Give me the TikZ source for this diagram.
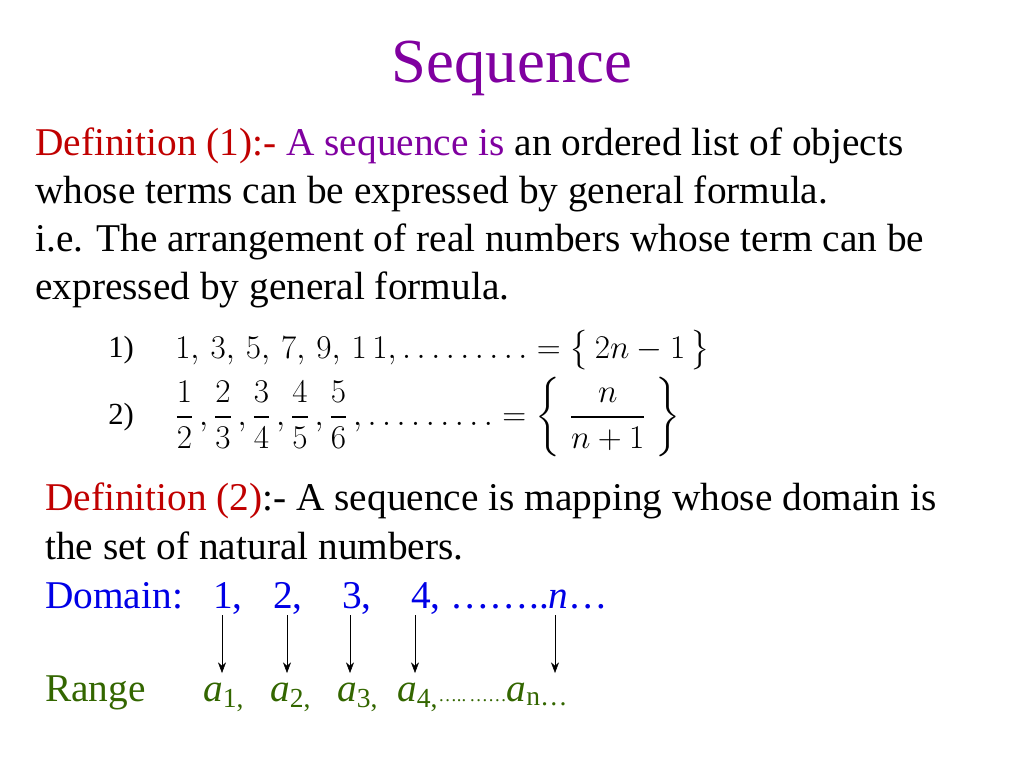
\documentclass[tikz,border=0pt]{standalone}
\usetikzlibrary{arrows.meta}
\usepackage{amsmath}
\usepackage{fontspec}
\setmainfont{Liberation Serif}
\definecolor{dred}{RGB}{192,0,0}
\definecolor{purp}{RGB}{128,0,160}
\definecolor{dblue}{RGB}{0,0,230}
\definecolor{dgreen}{RGB}{51,102,0}
\begin{document}
\begin{tikzpicture}[x=0.75pt,y=-0.75pt,
  txt/.style={anchor=base west,inner sep=0,font=\fontsize{29.5}{34}\selectfont},
  mth/.style={anchor=west,inner sep=0,font=\fontsize{23}{26}\selectfont},
  arr/.style={-{Stealth[length=8pt,width=6pt]},thin}]
\useasboundingbox (0,0) rectangle (1024,768);
\node[anchor=base,inner sep=0,text=purp,font=\fontsize{47}{54}\selectfont] (title) at (512,82) {Sequence};
\node[txt] (l1) at (35,155) {\textcolor{dred}{Definition (1):-} \textcolor{purp}{A sequence is} an ordered list of objects};
\node[txt] (l2) at (35,203) {whose terms can be expressed by general formula.};
\node[txt] (l3) at (35,251) {i.e. The arrangement of real numbers whose term can be};
\node[txt] (l4) at (35,299) {expressed by general formula.};
\node[mth] (f1l) at (108,350) {1)};
\node[mth] (f1) at (175,350) {$1,\,3,\,5,\,7,\,9,\,1\,1,\ldots\ldots\ldots=\bigl\{\,2n-1\,\bigr\}$};
\node[mth] (f2l) at (108,417) {2)};
\node[mth] (f2) at (175,417) {$\dfrac12\,,\dfrac23\,,\dfrac34\,,\dfrac45\,,\dfrac56\,,\ldots\ldots\ldots=\left\{\;\dfrac{\;\;n\;\;}{n+1}\;\right\}$};
\node[txt] (d1) at (45,510) {\textcolor{dred}{Definition (2)}:- A sequence is mapping whose domain is};
\node[txt] (d2) at (45,559) {the set of natural numbers.};
\node[txt,text=dblue] (dom) at (45,608) {Domain:};
\node[txt,text=dblue] (n1) at (213,608) {1,};
\node[txt,text=dblue] (n2) at (273,608) {2,};
\node[txt,text=dblue] (n3) at (342,608) {3,};
\node[txt,text=dblue] (n4) at (411,608) {4, \ldots\ldots..\textit{n}\ldots};
\node[txt,text=dgreen] (rng) at (45,701) {Range};
\node[txt,text=dgreen] (a1) at (203,701) {\textit{a}\textsubscript{1,}};
\node[txt,text=dgreen] (a2) at (270,701) {\textit{a}\textsubscript{2,}};
\node[txt,text=dgreen] (a3) at (337,701) {\textit{a}\textsubscript{3,}};
\node[txt,text=dgreen] (a4) at (397,701) {\textit{a}\textsubscript{4,}{\fontsize{14}{16}\selectfont \ldots..\,\ldots\ldots}\textit{a}\textsubscript{n\ldots}};
\coordinate (s1) at (222,615); \coordinate (e1) at (222,673);
\coordinate (s2) at (287,615); \coordinate (e2) at (287,673);
\coordinate (s3) at (350,615); \coordinate (e3) at (350,673);
\coordinate (s4) at (415,615); \coordinate (e4) at (415,673);
\coordinate (s5) at (555,615); \coordinate (e5) at (555,673);
\foreach \i in {1,...,5} \draw[arr] (s\i) -- (e\i);
\end{tikzpicture}
\end{document}
